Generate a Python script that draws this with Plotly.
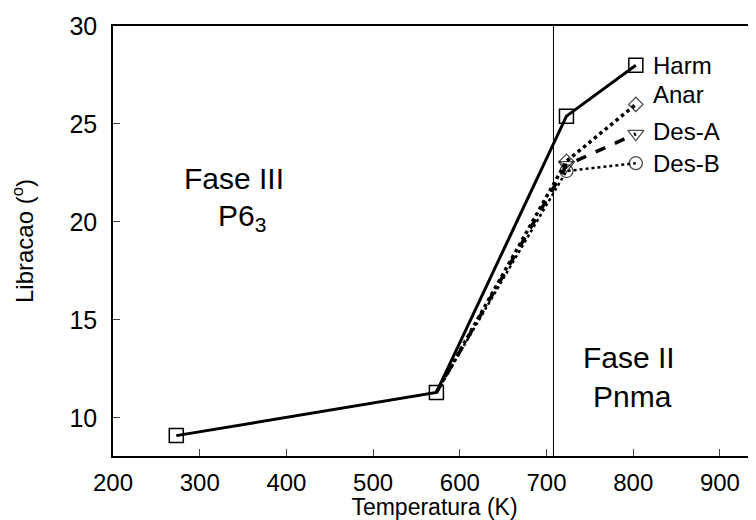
import plotly.graph_objects as go

# Data
harm_T = [273, 573, 723, 803]
harm_L = [9.1, 11.3, 25.4, 28.0]
anar_T = [573, 723, 803]
anar_L = [11.3, 23.1, 26.0]
desa_T = [573, 723, 803]
desa_L = [11.3, 22.9, 24.5]
desb_T = [573, 723, 803]
desb_L = [11.3, 22.6, 23.0]
series_names = ["Harm", "Anar", "Des-A", "Des-B"]
label_y = [27.96, 26.53, 24.64, 23.0]
transition_T = 708
x_ticks = [200, 300, 400, 500, 600, 700, 800, 900]
y_ticks = [10, 15, 20, 25, 30]

FONT = "Liberation Sans, Arial, sans-serif"

fig = go.Figure()
fig.add_trace(go.Scatter(x=harm_T, y=harm_L, mode="lines+markers",
                         line=dict(color="black", width=3),
                         marker=dict(symbol="square-open", size=14, color="black", line=dict(width=1.5))))
fig.add_trace(go.Scatter(x=anar_T, y=anar_L, mode="lines+markers",
                         line=dict(color="black", width=3.5, dash="dot"),
                         marker=dict(symbol="diamond-open", size=[0, 11, 11], color="black", line=dict(width=1.3))))
fig.add_trace(go.Scatter(x=desa_T, y=desa_L, mode="lines+markers",
                         line=dict(color="black", width=3.5, dash="dash"),
                         marker=dict(symbol="triangle-down-open", size=[0, 14, 14], color="black", line=dict(width=1.3))))
fig.add_trace(go.Scatter(x=desb_T, y=desb_L, mode="lines+markers",
                         line=dict(color="black", width=2.5, dash="dot"),
                         marker=dict(symbol="circle-open", size=[0, 13, 13], color="black", line=dict(width=1.3))))

fig.add_shape(type="line", x0=transition_T, x1=transition_T, y0=0, y1=1, yref="paper",
              line=dict(color="black", width=1))

for name, yv in zip(series_names, label_y):
    fig.add_annotation(x=821, y=yv, text=name, showarrow=False, xanchor="left",
                       font=dict(size=24, color="black", family=FONT))

fig.add_annotation(x=339.6, y=22.2, text="Fase III", showarrow=False,
                   font=dict(size=30, color="black", family=FONT))
fig.add_annotation(x=349, y=20.25, text="P6<sub>3</sub>", showarrow=False,
                   font=dict(size=30, color="black", family=FONT))
fig.add_annotation(x=795, y=13.11, text="Fase II", showarrow=False,
                   font=dict(size=30, color="black", family=FONT))
fig.add_annotation(x=799, y=11.12, text="Pnma", showarrow=False,
                   font=dict(size=30, color="black", family=FONT))

fig.update_layout(
    width=748, height=512,
    margin=dict(l=105, r=0, t=18, b=64, autoexpand=False),
    paper_bgcolor="white", plot_bgcolor="white",
    showlegend=False,
    font=dict(family=FONT, color="black", size=24),
    xaxis=dict(range=[200, 941.6], tickvals=x_ticks, ticks="inside", ticklen=7,
               showgrid=False, zeroline=False, showline=True, linecolor="black",
               linewidth=1.5, mirror=True, automargin=False, ticklabelstandoff=4,
               title=dict(text="Temperatura (K)", font=dict(size=23), standoff=4),
               tickfont=dict(size=24)),
    yaxis=dict(range=[8.06, 30], tickvals=y_ticks, ticks="inside", ticklen=7,
               showgrid=False, zeroline=False, showline=True, linecolor="black",
               linewidth=1.5, automargin=False, ticklabelstandoff=9,
               title=dict(text="Libracao (<sup>o</sup>)", font=dict(size=24), standoff=36),
               tickfont=dict(size=25)),
)

fig.write_html("out.html")
